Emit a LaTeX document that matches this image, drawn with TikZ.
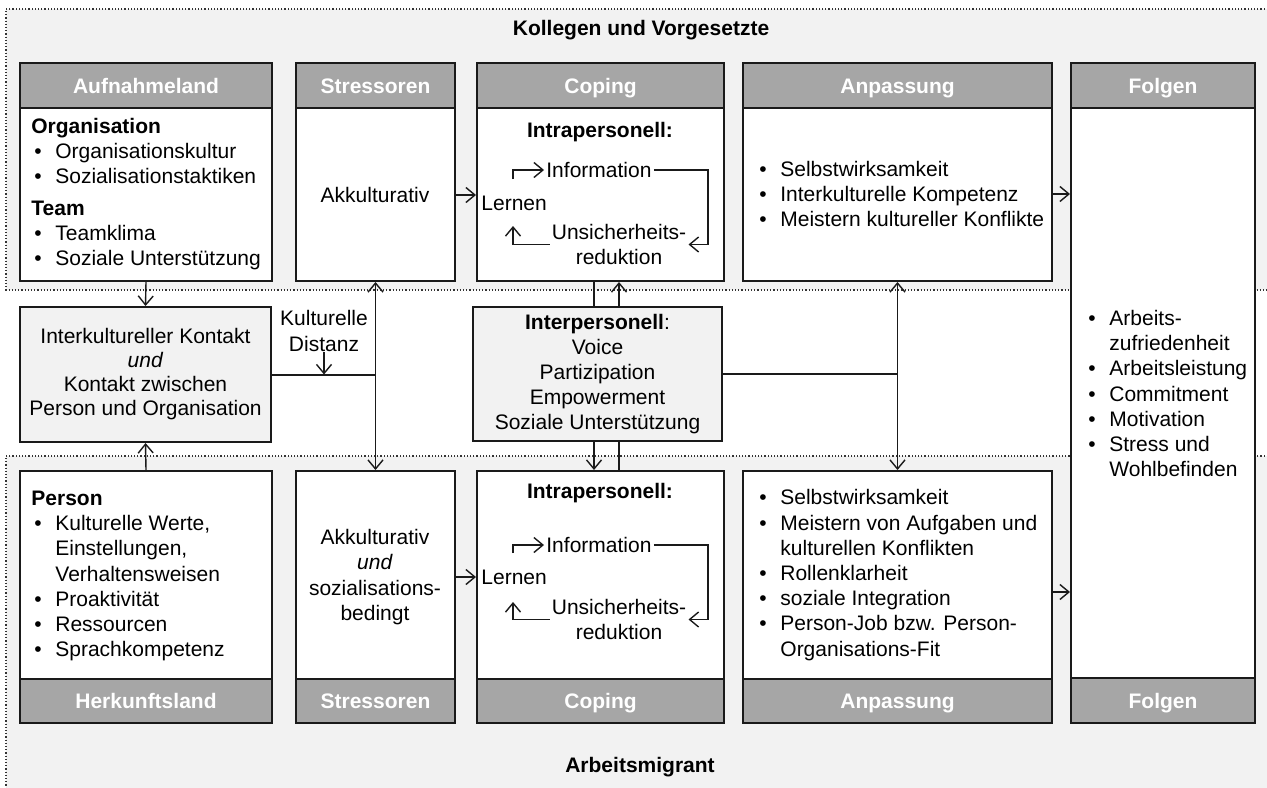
\documentclass[tikz,border=0pt]{standalone}
\usepackage{fontspec}
\setmainfont{Liberation Sans}
\usetikzlibrary{arrows.meta,fit}
\definecolor{hdr}{HTML}{A6A6A6}
\definecolor{reg}{HTML}{F2F2F2}
\definecolor{bord}{HTML}{1A1A1A}
\newcommand\itm[1]{\makebox[10.5pt][l]{\textbullet}#1}
\newcommand\cnt[1]{\hspace*{10.5pt}#1}
\begin{document}
\begin{tikzpicture}[x=0.5pt,y=-0.5pt, font=\fontsize{10.5}{12.6}\selectfont,
 hdrbox/.style={draw=bord, line width=1pt, fill=hdr, inner sep=0pt},
 hdrlbl/.style={inner sep=0pt, anchor=base, text=white, font=\fontsize{10.5}{12.6}\selectfont\bfseries},
 bodybox/.style={draw=bord, line width=1pt, fill=white, inner sep=0pt},
 midbox/.style={draw=bord, line width=1pt, fill=reg, inner sep=0pt, align=center},
 txt/.style={inner sep=0pt, align=left, anchor=west},
 ctxt/.style={inner sep=0pt, align=center},
 conn/.style={line width=0.7pt, draw=bord},
 arr/.style={conn, -{Straight Barb[length=4.5pt,width=7.5pt]}},
 darr/.style={conn, {Straight Barb[length=4.5pt,width=7.5pt]}-{Straight Barb[length=4.5pt,width=7.5pt]}},
 region/.style={draw=black!80, line width=0.6pt, densely dotted},
]
\useasboundingbox (0,0) rectangle (1267,787);
\clip (0,0) rectangle (1267,787);
% regions
\fill[reg] (6,9) rectangle (1300,290);
\draw[region] (1300,9) -- (6,9) -- (6,290) -- (1300,290);
\fill[reg] (6,456) rectangle (1300,800);
\draw[region] (1300,456) -- (6,456) -- (6,800);
\node[font=\fontsize{10.5}{12.6}\selectfont\bfseries] (t1) at (641,30) {Kollegen und Vorgesetzte};
\node[font=\fontsize{10.5}{12.6}\selectfont\bfseries] (t2) at (640,767) {Arbeitsmigrant};

% top boxes
\node[hdrbox, fit={(20,63)(272,108)}] (ah) {};
\node[bodybox, fit={(20,108)(272,281)}] (ab) {};
\node[hdrbox, fit={(296,63)(455,108)}] (sh) {};
\node[bodybox, fit={(296,108)(455,281)}] (sb) {};
\node[hdrbox, fit={(477,63)(724,108)}] (ch) {};
\node[bodybox, fit={(477,108)(724,281)}] (cb) {};
\node[hdrbox, fit={(743,63)(1052,108)}] (ph) {};
\node[bodybox, fit={(743,108)(1052,281)}] (pb) {};
\node[hdrbox, fit={(1071,63)(1255,108)}] (fh) {};
\node[bodybox, fit={(1071,108)(1255,678)}] (fb) {};
\node[hdrbox, fit={(1071,678)(1255,723)}] (fh2) {};

% bottom boxes
\node[bodybox, fit={(20,471)(272,679)}] (bb1) {};
\node[hdrbox, fit={(20,679)(272,723)}] (bh1) {};
\node[bodybox, fit={(296,471)(455,679)}] (sb2) {};
\node[hdrbox, fit={(296,679)(455,723)}] (sh2) {};
\node[bodybox, fit={(477,471)(724,679)}] (cb2) {};
\node[hdrbox, fit={(477,679)(724,723)}] (ch2) {};
\node[bodybox, fit={(743,471)(1052,679)}] (pb2) {};
\node[hdrbox, fit={(743,679)(1052,723)}] (ph2) {};

% header labels
\node[hdrlbl] (ahl) at ([yshift=-3.8pt]ah.center) {Aufnahmeland};
\node[hdrlbl] (shl) at ([yshift=-3.8pt]sh.center) {Stressoren};
\node[hdrlbl] (chl) at ([yshift=-3.8pt]ch.center) {Coping};
\node[hdrlbl] (phl) at ([yshift=-3.8pt]ph.center) {Anpassung};
\node[hdrlbl] (fhl) at ([yshift=-3.8pt]fh.center) {Folgen};
\node[hdrlbl] (fhl2) at ([yshift=-3.8pt]fh2.center) {Folgen};
\node[hdrlbl] (bhl1) at ([yshift=-3.8pt]bh1.center) {Herkunftsland};
\node[hdrlbl] (shl2) at ([yshift=-3.8pt]sh2.center) {Stressoren};
\node[hdrlbl] (chl2) at ([yshift=-3.8pt]ch2.center) {Coping};
\node[hdrlbl] (phl2) at ([yshift=-3.8pt]ph2.center) {Anpassung};

% middle boxes
\node[midbox, fit={(20,307)(271,442)}] (ik) {};
\node[ctxt, font=\fontsize{10.5}{12}\selectfont] (iktxt) at (ik.center) {Interkultureller Kontakt\\\textit{und}\\Kontakt zwischen\\Person und Organisation};
\node[midbox, fit={(473,307)(722,441)}] (ip) {};
\node[ctxt] (iptxt) at (ip.center) {\textbf{Interpersonell}:\\Voice\\Partizipation\\Empowerment\\Soziale Unterstützung};

% texts
\node[txt] (atxt) at (34,194) {\hspace*{-1.5pt}\textbf{Organisation}\\\itm{Organisationskultur}\\\itm{Sozialisationstaktiken}\\[3pt]\hspace*{-1.5pt}\textbf{Team}\\\itm{Teamklima}\\\itm{Soziale Unterstützung}};
\node[txt] (btxt) at (34,576) {\hspace*{-1.5pt}\textbf{Person}\\\itm{Kulturelle Werte,}\\\cnt{Einstellungen,}\\\cnt{Verhaltensweisen}\\\itm{Proaktivität}\\\itm{Ressourcen}\\\itm{Sprachkompetenz}};
\node[ctxt] (st1) at (375,195) {Akkulturativ};
\node[ctxt] (st2) at (375,577) {Akkulturativ\\\textit{und}\\sozialisations-\\bedingt};
\node[txt] (pt1) at (759,194) {\itm{Selbstwirksamkeit}\\\itm{Interkulturelle Kompetenz}\\\itm{Meistern kultureller Konflikte}};
\node[txt] (pt2) at (759,575) {\itm{Selbstwirksamkeit}\\\itm{Meistern von Aufgaben und}\\\cnt{kulturellen Konflikten}\\\itm{Rollenklarheit}\\\itm{soziale Integration}\\\itm{Person-Job bzw. Person-}\\\cnt{Organisations-Fit}};
\node[txt] (ftxt) at (1088,393.5) {\itm{Arbeits-}\\\cnt{zufriedenheit}\\\itm{Arbeitsleistung}\\\itm{Commitment}\\\itm{Motivation}\\\itm{Stress und}\\\cnt{Wohlbefinden}};
\node[ctxt] (kd) at (324,331) {Kulturelle\\Distanz};

% coping inner (top)
\node[ctxt, font=\fontsize{10.5}{12.6}\selectfont\bfseries] (ct1) at (600,132) {Intrapersonell:};
\node[txt, inner sep=1pt] (info1) at (544,170) {Information};
\node[txt] (lern1) at (481,203) {Lernen};
\node[ctxt, inner sep=1pt] (uns1) at (619,244.5) {Unsicherheits-\\reduktion};
\coordinate (r1) at (708,170);
\coordinate (l1a) at (513,179);
\coordinate (l1b) at (513,226);
\draw[arr] (l1a) |- (info1.west);
\draw[arr] (info1.east) -- (r1) |- (uns1.east);
\draw[arr] (uns1.west) -| (l1b);

% coping inner (bottom)
\node[ctxt, font=\fontsize{10.5}{12.6}\selectfont\bfseries] (ct2) at (600,493) {Intrapersonell:};
\node[txt, inner sep=1pt] (info2) at (544,545) {Information};
\node[txt] (lern2) at (481,577) {Lernen};
\node[ctxt, inner sep=1pt] (uns2) at (619,619.5) {Unsicherheits-\\reduktion};
\coordinate (r2) at (708,545);
\coordinate (l2a) at (513,553);
\coordinate (l2b) at (513,602);
\draw[arr] (l2a) |- (info2.west);
\draw[arr] (info2.east) -- (r2) |- (uns2.east);
\draw[arr] (uns2.west) -| (l2b);

% connectors
\draw[arr] (ab.south) -- (ik.north);
\draw[arr] (bb1.north) -- (ik.south);
\draw[conn, line width=1pt] (ik.east) -- (ik.east -| sb.south);
\draw[darr] (sb.south) -- (sb2.north);
\draw[arr] (kd.south) -- (kd.south |- ik.east);
\draw[arr] (sb.east |- st1) -- (cb.west |- st1);
\draw[arr] (sb2.east |- st2) -- (cb2.west |- st2);
\coordinate (v1) at (594,0);
\coordinate (v2) at (619,0);
\draw[conn] (v1 |- cb.south) -- (v1 |- ip.north);
\draw[arr] (v2 |- ip.north) -- (v2 |- cb.south);
\draw[arr] (v1 |- ip.south) -- (v1 |- cb2.north);
\draw[conn] (v2 |- cb2.north) -- (v2 |- ip.south);
\draw[conn] (ip.east) -- (ip.east -| pb.south);
\draw[darr] (pb.south) -- (pb2.north);
\draw[arr] (pb.east |- pt1) -- (fb.west |- pt1);
\coordinate (pf2) at (0,592);
\draw[arr] (pb2.east |- pf2) -- (fb.west |- pf2);
\end{tikzpicture}
\end{document}
